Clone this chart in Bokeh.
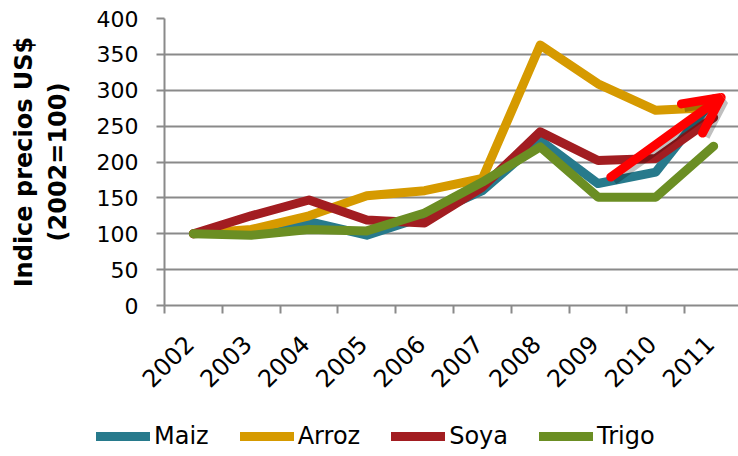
import math
from bokeh.plotting import figure
from bokeh.layouts import column
from bokeh.models import Range1d, FixedTicker, Legend, LegendItem, Arrow, OpenHead
from bokeh.embed import file_html
from bokeh.resources import INLINE

years = ["2002", "2003", "2004", "2005", "2006", "2007", "2008", "2009", "2010", "2011"]
maiz = [100, 104, 117, 98, 124, 160, 230, 170, 186, 288]
arroz = [100, 106, 125, 153, 160, 177, 363, 309, 272, 276]
soya = [100, 125, 147, 119, 115, 165, 242, 202, 205, 262]
trigo = [100, 98, 106, 104, 129, 172, 221, 151, 151, 222]
series_names = ["Maiz", "Arroz", "Soya", "Trigo"]
series_colors = ["#277A8C", "#D69A00", "#A21D21", "#6B8E23"]
y_ticks = [0, 50, 100, 150, 200, 250, 300, 350, 400]
arrow_start = (7.72, 179)
arrow_end = (9.63, 290)

xs = [i + 0.5 for i in range(len(years))]
label_pos = [x - 0.07 for x in xs]
all_series = [maiz, arroz, soya, trigo]

p = figure(width=738, height=410, output_backend="svg", toolbar_location=None,
           x_range=Range1d(0, 9.93), y_range=Range1d(0, 400),
           min_border_left=164, min_border_right=0, min_border_top=18, min_border_bottom=105)
p.frame_align = False
p.outline_line_color = None
p.background_fill_color = "white"
p.border_fill_color = "white"

grid_col = "#8a8a8a"
tick_font = "DejaVu Sans"

# x axis
p.xaxis.ticker = FixedTicker(ticks=label_pos, minor_ticks=list(range(len(years) + 1)))
p.xaxis.major_label_overrides = {x: y for x, y in zip(label_pos, years)}
p.xaxis.major_tick_out = 0
p.xaxis.major_tick_in = 0
p.xaxis.minor_tick_out = 8
p.xaxis.minor_tick_in = 0
p.xaxis.minor_tick_line_color = grid_col
p.xaxis.minor_tick_line_width = 2
p.xaxis.axis_line_color = grid_col
p.xaxis.axis_line_width = 2
p.xaxis.major_label_orientation = math.pi / 4
p.xaxis.major_label_text_font = tick_font
p.xaxis.major_label_text_font_size = "24px"
p.xaxis.major_label_text_color = "black"
p.xaxis.major_label_standoff = 26
p.xgrid.visible = False

# y axis
p.yaxis.ticker = FixedTicker(ticks=y_ticks)
p.yaxis.major_tick_out = 8
p.yaxis.major_tick_in = 0
p.yaxis.minor_tick_line_color = None
p.yaxis.major_tick_line_color = grid_col
p.yaxis.major_tick_line_width = 2
p.yaxis.axis_line_color = grid_col
p.yaxis.axis_line_width = 2
p.yaxis.major_label_text_font = tick_font
p.yaxis.major_label_text_font_size = "22px"
p.yaxis.major_label_text_color = "black"
p.yaxis.major_label_standoff = 18
p.yaxis.axis_label = "Indice precios US$\n(2002=100)"
p.yaxis.axis_label_text_font = "DejaVu Sans"
p.yaxis.axis_label_text_font_style = "bold"
p.yaxis.axis_label_text_font_size = "24px"
p.yaxis.axis_label_text_color = "black"
p.yaxis.axis_label_standoff = 22
p.ygrid.grid_line_color = grid_col
p.ygrid.grid_line_width = 2
p.ygrid.ticker = FixedTicker(ticks=y_ticks)

for vals, col in zip(all_series, series_colors):
    p.line(xs, vals, line_color=col, line_width=9, line_join="round", line_cap="round")

# arrow with soft shadow
p.add_layout(Arrow(x_start=arrow_start[0] + 0.05, y_start=arrow_start[1] - 5,
                   x_end=arrow_end[0] + 0.05, y_end=arrow_end[1] - 5,
                   line_color="black", line_alpha=0.25, line_width=9,
                   end=OpenHead(size=36, line_width=9, line_color="black", line_alpha=0.25)))
p.add_layout(Arrow(x_start=arrow_start[0], y_start=arrow_start[1],
                   x_end=arrow_end[0], y_end=arrow_end[1],
                   line_color="#FF0000", line_width=9, line_cap="round",
                   end=OpenHead(size=36, line_width=9, line_color="#FF0000", line_cap="round")))

# legend strip below the chart (series drawn off-range, only their legend swatches show)
lg = figure(width=738, height=46, output_backend="svg", toolbar_location=None,
            x_range=Range1d(-10, -9), y_range=Range1d(-10, -9),
            min_border=0, x_axis_type=None, y_axis_type=None)
lg.frame_align = False
lg.outline_line_color = None
lg.grid.visible = False
items = []
for name, vals, col in zip(series_names, all_series, series_colors):
    r = lg.line(xs, vals, line_color=col, line_width=9, line_cap="round")
    items.append(LegendItem(label=name, renderers=[r]))
legend = Legend(items=items, orientation="horizontal", location=(96, 6),
                glyph_width=54, glyph_height=24, label_standoff=4, spacing=31,
                padding=0, margin=0, border_line_color=None, background_fill_alpha=0,
                label_text_font=tick_font, label_text_font_size="24px",
                label_text_color="black")
lg.add_layout(legend, "center")

layout = column(p, lg, spacing=0)
open("out.html", "w").write(file_html(layout, INLINE))
